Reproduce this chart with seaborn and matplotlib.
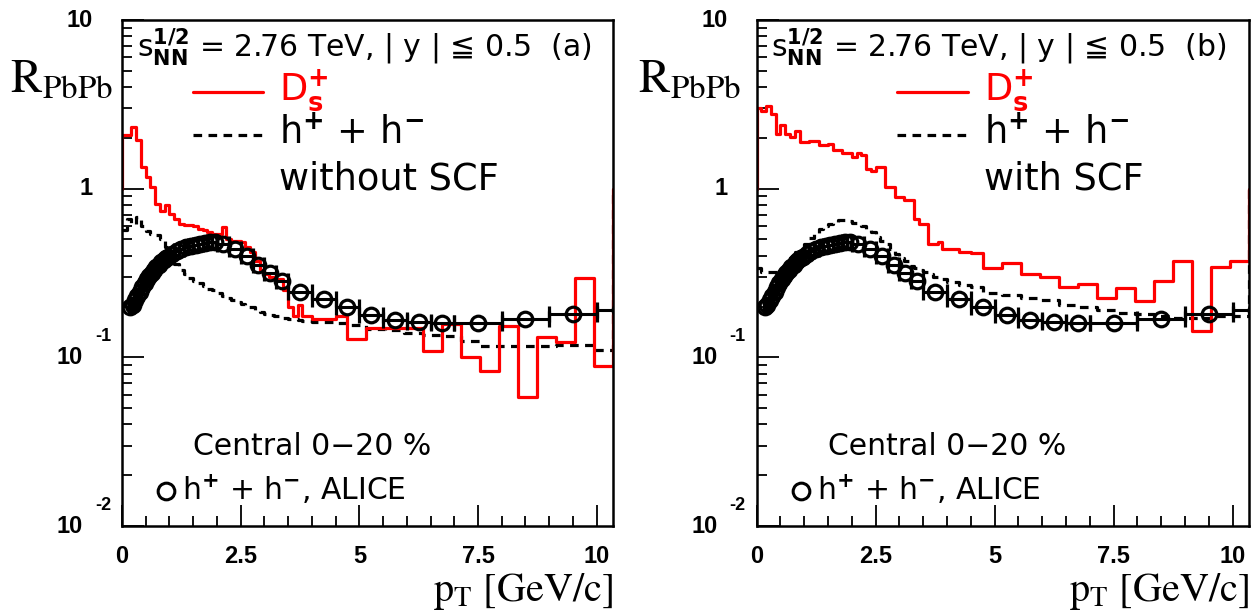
import numpy as np
import pandas as pd
import matplotlib
matplotlib.use("Agg")
import matplotlib.pyplot as plt
import seaborn as sns
from matplotlib.ticker import MultipleLocator, LogLocator, NullFormatter
from matplotlib import transforms

# ---------------- data ----------------
# histogram bin edges (GeV/c)
fine_edges = [round(0.1 * i, 1) for i in range(41)]          # 0.0 ... 4.0
coarse_edges = [4.25, 4.5, 4.75, 5.15, 5.55, 5.95, 6.35, 6.75, 7.15, 7.55,
                7.95, 8.35, 8.75, 9.15, 9.55, 9.95, 10.35]
bin_edges = fine_edges + coarse_edges

# D_s+ R_PbPb, panel (a)
ds_a = [2.07, 2.07, 2.32, 1.94, 1.34, 1.17, 1.02, 0.81, 0.74, 0.80,
        0.71, 0.66, 0.62, 0.61, 0.61, 0.60, 0.58, 0.57, 0.55, 0.54,
        0.54, 0.59, 0.50, 0.49, 0.49, 0.48, 0.45, 0.42, 0.375, 0.33,
        0.31, 0.30, 0.29, 0.29, 0.25, 0.198, 0.177, 0.203, 0.177, 0.177,
        0.169, 0.169, 0.177,
        0.128, 0.149, 0.149, 0.149, 0.109, 0.158, 0.100, 0.083, 0.154, 0.058,
        0.132, 0.124, 0.296, 0.089]
# h+ + h- without SCF, panel (a)
hh_a = [0.57, 0.66, 0.62, 0.68, 0.60, 0.56, 0.54, 0.53, 0.50, 0.45,
        0.40, 0.36, 0.33, 0.31, 0.295, 0.285, 0.275, 0.265, 0.255, 0.25,
        0.24, 0.232, 0.225, 0.22, 0.212, 0.206, 0.20, 0.198, 0.192, 0.186,
        0.181, 0.178, 0.175, 0.172, 0.170, 0.169, 0.168, 0.167, 0.165, 0.164,
        0.162, 0.161, 0.160,
        0.155, 0.147, 0.145, 0.139, 0.136, 0.133, 0.125, 0.116, 0.116, 0.116,
        0.117, 0.118, 0.118, 0.110]
# D_s+ R_PbPb, panel (b)
ds_b = [3.0, 2.9, 3.08, 2.79, 2.12, 2.4, 2.12, 2.03, 2.2, 1.89,
        1.89, 1.93, 1.93, 1.81, 1.81, 1.85, 1.69, 1.69, 1.62, 1.62,
        1.54, 1.62, 1.58, 1.31, 1.28, 1.35, 1.35, 1.02, 1.02, 0.89,
        0.89, 0.86, 0.86, 0.66, 0.62, 0.62, 0.47, 0.47, 0.48, 0.44,
        0.44, 0.42, 0.414,
        0.34, 0.361, 0.31, 0.298, 0.263, 0.272, 0.225, 0.258, 0.215, 0.285,
        0.372, 0.143, 0.345, 0.372]
# h+ + h- with SCF, panel (b)
hh_b = [0.34, 0.32, 0.32, 0.32, 0.32, 0.33, 0.36, 0.39, 0.42, 0.45,
        0.47, 0.51, 0.54, 0.58, 0.60, 0.62, 0.63, 0.65, 0.65, 0.64,
        0.63, 0.61, 0.60, 0.58, 0.55, 0.52, 0.49, 0.47, 0.44, 0.41,
        0.39, 0.37, 0.35, 0.34, 0.33, 0.32, 0.31, 0.30, 0.295, 0.29,
        0.28, 0.27, 0.26,
        0.24, 0.235, 0.225, 0.22, 0.205, 0.198, 0.19, 0.184, 0.18, 0.175,
        0.172, 0.172, 0.175, 0.177]
underflow_ds = 1.0
overflow_val = 1.0

# ALICE charged hadrons, central 0-20 %
alice_pt = [0.175, 0.225, 0.275, 0.325, 0.375, 0.425, 0.475, 0.525, 0.575, 0.625,
            0.675, 0.725, 0.775, 0.825, 0.875, 0.925, 0.975,
            1.05, 1.15, 1.25, 1.35, 1.45, 1.55, 1.65, 1.75, 1.85, 1.95,
            2.125, 2.375, 2.625, 2.875, 3.125, 3.375,
            3.75, 4.25, 4.75, 5.25, 5.75, 6.25, 6.75,
            7.5, 8.5, 9.5, 10.5]
alice_dpt = [0.025] * 17 + [0.05] * 10 + [0.125] * 6 + [0.25] * 7 + [0.5] * 4
alice_raa = [0.198, 0.205, 0.218, 0.23, 0.245, 0.26, 0.275, 0.29, 0.305, 0.318,
             0.33, 0.342, 0.353, 0.365, 0.376, 0.386, 0.395,
             0.41, 0.425, 0.438, 0.448, 0.458, 0.466, 0.473, 0.478, 0.482, 0.484,
             0.47, 0.44, 0.40, 0.355, 0.315, 0.285,
             0.245, 0.222, 0.198, 0.178, 0.167, 0.161, 0.159,
             0.16, 0.169, 0.18, 0.19]

x_ticks = [0, 2.5, 5, 7.5, 10]
x_ticklabels = ["0", "2.5", "5", "7.5", "10"]

# ---------------- style ----------------
sns.set_theme(style="ticks")
plt.rcParams["font.family"] = ["DejaVu Sans"]
plt.rcParams["axes.linewidth"] = 1.8
plt.rcParams["axes.edgecolor"] = "black"
plt.rcParams["text.color"] = "black"
plt.rcParams["xtick.color"] = "black"
plt.rcParams["ytick.color"] = "black"
plt.rcParams["xtick.labelcolor"] = "black"
plt.rcParams["ytick.labelcolor"] = "black"

RED = "#ff0000"
DASH = (0, (2.7, 2.0))
LW = 2.3

fig = plt.figure(figsize=(12.58, 6.14), dpi=100)
ax_a = fig.add_axes([0.09698, 0.14332, 0.39054, 0.82410])
ax_b = fig.add_axes([0.60151, 0.14332, 0.39157, 0.82410])

HDR = 21.5
LEG = 26.5
BOT = 21.5
tick_font = dict(family="Liberation Sans", weight="bold", size=17)


def step_df(edges, vals, under=None, over=None):
    xs = list(edges)
    ys = list(vals) + [over]
    if under is not None:
        xs = [-0.3] + xs
        ys = [under] + ys
    return pd.DataFrame({"pt": xs, "raa": ys})


def panel(ax, ds, hh, tag, scf_text, legx):
    ax.set_yscale("log")
    sns.lineplot(data=step_df(bin_edges, hh, over=overflow_val), x="pt", y="raa",
                 ax=ax, estimator=None, sort=False, drawstyle="steps-post",
                 color="black", linewidth=LW, linestyle=DASH)
    sns.lineplot(data=step_df(bin_edges, ds, under=underflow_ds, over=overflow_val),
                 x="pt", y="raa", ax=ax, estimator=None, sort=False,
                 drawstyle="steps-post", color=RED, linewidth=LW)
    ax.errorbar(alice_pt, alice_raa, xerr=alice_dpt, fmt="o", mfc="none",
                mec="black", mew=2.3, ms=10.5, ecolor="black", elinewidth=2.2,
                capsize=6, capthick=2.2, color="black", zorder=3)

    ax.set_xlim(0, 10.35)
    ax.set_ylim(0.01, 10)
    ax.set_xlabel("")
    ax.set_ylabel("")
    ax.set_xticks(x_ticks)
    ax.set_xticklabels(x_ticklabels, fontdict=tick_font, color="black")
    ax.xaxis.set_minor_locator(MultipleLocator(0.5))
    ax.set_yticks([0.01, 0.1, 1, 10])
    ax.yaxis.set_minor_locator(LogLocator(base=10, subs=np.arange(2, 10)))
    ax.yaxis.set_minor_formatter(NullFormatter())
    ax.set_yticklabels([])
    ax.tick_params(axis="both", which="both", direction="in", top=False,
                   right=False, color="black")
    ax.tick_params(axis="x", which="major", length=15, width=1.3, pad=14)
    ax.tick_params(axis="x", which="minor", length=7, width=1.3)
    ax.tick_params(axis="y", which="major", length=16, width=1.3)
    ax.tick_params(axis="y", which="minor", length=7, width=1.3)
    for s in ax.spines.values():
        s.set_visible(True)
        s.set_linewidth(1.8)
        s.set_color("black")

    # y tick labels (ROOT style)
    blend = transforms.blended_transform_factory(ax.transAxes, ax.transData)
    for val, lab in [(10, "10"), (1, "1")]:
        ax.text(-0.059, val, lab, transform=blend, ha="right", va="center",
                fontfamily="Liberation Sans", fontweight="bold", fontsize=17,
                color="black")
    up = transforms.offset_copy(blend, fig=fig, x=0, y=21, units="dots")
    for val, ex in [(0.1, "-1"), (0.01, "-2")]:
        ax.text(-0.079, val, "10", transform=blend, ha="right", va="center",
                fontfamily="Liberation Sans", fontweight="bold", fontsize=17,
                color="black")
        ax.text(-0.0224, val, ex, transform=up, ha="right", va="center",
                fontfamily="Liberation Sans", fontweight="bold", fontsize=13,
                color="black")

    # header
    ax.text(0.03, 0.927,
            r"$\mathregular{s_{\mathbf{NN}}^{\mathbf{1/2}}}$ = 2.76 TeV, | y | ≦ 0.5  (" + tag + ")",
            transform=ax.transAxes, ha="left", va="baseline", fontsize=HDR,
            math_fontfamily="dejavusans")
    # legend
    ax.plot([legx, legx + 0.143], [0.858, 0.858], transform=ax.transAxes,
            color=RED, lw=LW, clip_on=False)
    ax.text(legx + 0.176, 0.842, r"$\mathregular{D_{\mathbf{s}}^{\mathbf{+}}}$",
            transform=ax.transAxes, ha="left", va="baseline", fontsize=LEG,
            color=RED, math_fontfamily="dejavusans")
    ax.plot([legx, legx + 0.143], [0.773, 0.773], transform=ax.transAxes,
            color="black", lw=LW, linestyle=DASH, clip_on=False)
    ax.text(legx + 0.176, 0.756, r"h$^{\mathbf{+}}$ + h$^{\mathbf{-}}$",
            transform=ax.transAxes, ha="left", va="baseline", fontsize=LEG,
            math_fontfamily="dejavusans")
    ax.text(legx + 0.176, 0.666, scf_text, transform=ax.transAxes,
            ha="left", va="baseline", fontsize=LEG)

    ax.text(0.145, 0.140, "Central 0−20 %", transform=ax.transAxes,
            ha="left", va="baseline", fontsize=BOT)
    ax.plot([0.09], [0.069], "o", transform=ax.transAxes, mfc="none",
            mec="black", mew=2.2, ms=12, clip_on=False)
    ax.text(0.122, 0.051, r"h$^{\mathbf{+}}$ + h$^{\mathbf{-}}$, ALICE",
            transform=ax.transAxes, ha="left", va="baseline", fontsize=BOT,
            math_fontfamily="dejavusans")

    # axis title (ROOT style, serif)
    ax.text(1.0, -0.148, r"$\mathrm{p}_{\mathrm{T}}$ [GeV/c]", transform=ax.transAxes,
            ha="right", va="baseline", fontsize=29, fontfamily="STIXGeneral",
            math_fontfamily="stix")


panel(ax_a, ds_a, hh_a, "a", "without SCF", 0.144)
panel(ax_b, ds_b, hh_b, "b", "with SCF", 0.285)

for x0 in [10, 638]:
    fig.text(x0 / 1258, 1 - 93 / 614, r"$\mathrm{R}_{\mathrm{PbPb}}$", ha="left",
             va="baseline", fontsize=34, math_fontfamily="stix")

fig.savefig("out.png", dpi=100)
